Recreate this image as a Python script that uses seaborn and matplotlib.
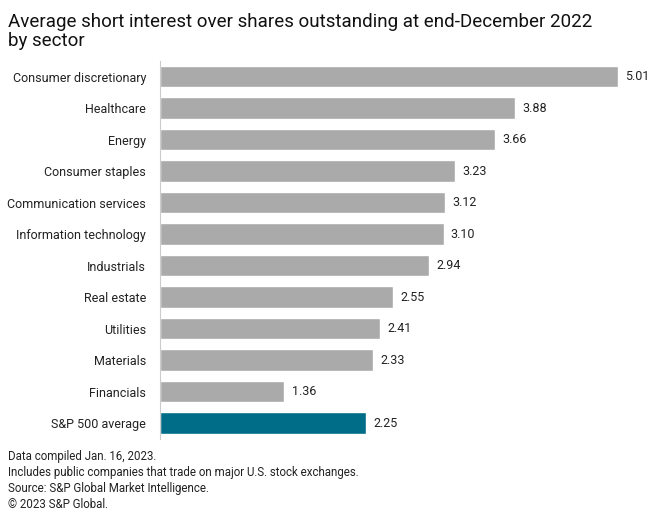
import matplotlib
matplotlib.use("Agg")
import matplotlib.pyplot as plt
import pandas as pd
import seaborn as sns

sectors = ["Consumer discretionary", "Healthcare", "Energy", "Consumer staples",
           "Communication services", "Information technology", "Industrials",
           "Real estate", "Utilities", "Materials", "Financials", "S&P 500 average"]
values = [5.01, 3.88, 3.66, 3.23, 3.12, 3.10, 2.94, 2.55, 2.41, 2.33, 1.36, 2.25]
bar_colors = ["#AAAAAA"] * 11 + ["#006D88"]

sns.set_theme(style="white")
plt.rcParams['font.family'] = ['Roboto', 'DejaVu Sans']

df = pd.DataFrame({"sector": sectors, "value": values})

fig = plt.figure(figsize=(6.6, 5.15), dpi=100)
ax = fig.add_axes([0.2424, 0.148, 0.7276, 0.734])

sns.barplot(data=df, y="sector", x="value", hue="sector", palette=bar_colors,
            legend=False, width=0.67, ax=ax, saturation=1)

for i, v in enumerate(values):
    ax.text(v + 0.08, i, f"{v:.2f}", va="center", ha="left", fontsize=9, color="#222222")

ax.set_xlim(0, 5.25)
ax.set_ylim(11.5, -0.5)
ax.set_xlabel("")
ax.set_ylabel("")
ax.set_xticks([])
ax.tick_params(axis="y", length=0, pad=10, labelsize=9, labelcolor="#222222")
for s in ["top", "right", "bottom"]:
    ax.spines[s].set_visible(False)
ax.spines["left"].set_color("#CCCCCC")
ax.spines["left"].set_linewidth(0.8)

fig.text(0.012, 0.975, "Average short interest over shares outstanding at end-December 2022\nby sector",
         ha="left", va="top", fontsize=13.5, color="#111111", linespacing=1.05)

fig.text(0.012, 0.127, "Data compiled Jan. 16, 2023.\n"
         "Includes public companies that trade on major U.S. stock exchanges.\n"
         "Source: S&P Global Market Intelligence.\n"
         "\u00a9 2023 S&P Global.",
         ha="left", va="top", fontsize=8.3, color="#222222", linespacing=1.33)

plt.savefig("out.png", dpi=100, facecolor="white")
